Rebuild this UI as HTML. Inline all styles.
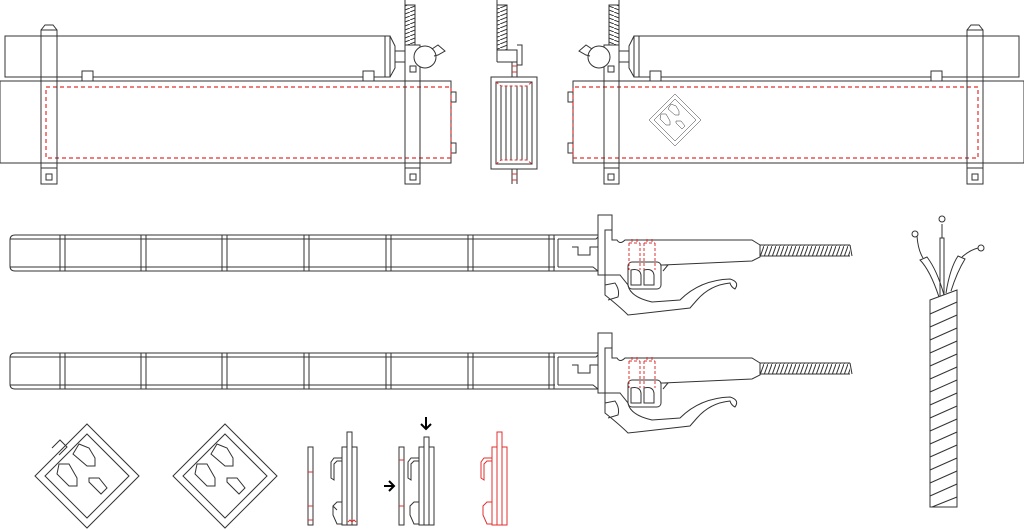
<!DOCTYPE html>
<html><head><meta charset="utf-8"><style>html,body{margin:0;padding:0;background:#fff}svg{display:block}</style></head>
<body>
<svg width="1024" height="530" viewBox="0 0 1024 530" xmlns="http://www.w3.org/2000/svg" fill="none" stroke="#333" stroke-width="1">
<defs>
<pattern id="hv" width="10" height="4" patternUnits="userSpaceOnUse"><path d="M0 4 L10 0" stroke="#333"/></pattern>
<pattern id="hh" width="4" height="11" patternUnits="userSpaceOnUse"><path d="M0 11 L4 0" stroke="#333"/></pattern>
<g id="unit">
  <rect x="5" y="36" width="385" height="41" fill="#fff"/>
  <path d="M385 36 V77 M390 36 L395 46 V68 L390 77 M395 51 H405 V62 H395"/>
  <rect x="82" y="71" width="11" height="10" fill="#fff"/>
  <rect x="363" y="71" width="11" height="10" fill="#fff"/>
  <rect x="0" y="81" width="451" height="82" fill="#fff"/>
  <rect x="451" y="92" width="5" height="10"/><rect x="451" y="143" width="5" height="10"/>
  <rect x="46" y="87" width="405" height="71" stroke="#e03030" stroke-dasharray="4,3" stroke-width="1.2"/>
  <path d="M41 184 V30 L45 25 H53 L57 30 V184 Z M41 30 H57 M41 168 H57"/>
  <rect x="46" y="174" width="6" height="6"/>
  <path d="M405 45 V184 H420 V45 Z M405 168 H420"/>
  <rect x="410" y="66" width="6" height="6"/><rect x="410" y="174" width="6" height="6"/>
  <rect x="405" y="5" width="10" height="40" fill="url(#hv)"/>
  <path d="M405 0 V45 M415 5 V45 M415 45 H420"/>
  <circle cx="425" cy="57" r="11" fill="#fff"/>
  <path d="M432 49 L438 45 L445 51 L438 55 L434 56"/>
</g>
<g id="stick">
  <path d="M15 0 H555 M15 36 H555 M10 5 Q10 0 15 0 M10 31 Q10 36 15 36 M10 5 V31 M10 4 H555 M10 32 H555"/>
  <path d="M60 0 V36 M65 0 V36 M141 0 V36 M146 0 V36 M222 0 V36 M227 0 V36 M304 0 V36 M309 0 V36 M386 0 V36 M391 0 V36 M468 0 V36 M473 0 V36 M549 0 V36 M554 0 V36"/>
  <path d="M555 0 H598 M555 36 H598 M558 4 H596 L598 2 M558 4 V32 M558 32 H593 L598 36 M572 12 H578 V20 H590 V12 H598"/>
  <path d="M598 -20 H612 V-5 H605 V40 H598 Z M612 -20 V5 Q612 5 617 5 Q620 10 625 5 H752 L760 10 V22 L752 26 L663 30"/>
  <path d="M760 10 H850 M760 21 H850 M850 10 L852 21"/>
  <rect x="760" y="10" width="90" height="11" fill="url(#hh)" stroke="none"/>
  <rect x="628" y="27" width="33" height="27" rx="4"/>
  <path d="M661 30 L668 30 L663 36"/>
  <path d="M631 35 Q640 33 641 40 V50 H631 Z M644 35 Q653 33 654 40 V50 H644 Z"/>
  <path d="M629 8 V35 M640 8 V35 M629 8 H640 M644 8 V35 M655 8 V35 M644 8 H655 M632 4 V9 M637 4 V9 M647 4 V9 M652 4 V9" stroke="#e03030" stroke-dasharray="3,2"/>
  <path d="M605 40 H620 L628 50 Q630 62 652 67 L680 65 Q700 45 730 44 Q740 47 735 54 Q731 52 730 48 Q710 50 697 65 L690 73 L628 80 Q620 72 605 60 Z M605 50 L615 48 Q620 55 618 62 L608 65"/>
</g>
<g id="diamond">
  <path d="M0 -52 L52 0 L0 52 L-52 0 Z M0 -42 L42 0 L0 42 L-42 0 Z"/>
  <path d="M-8 -32 L2 -28 L8 -18 V-10 H0 L-14 -22 Z M-28 -12 L-18 -12 L-10 2 V10 H-18 L-30 -2 Z M2 2 H12 L20 12 L14 18 L2 6 Z"/>
</g>
</defs>

<use href="#unit"/>
<g transform="translate(1024,0) scale(-1,1)"><use href="#unit"/></g>
<g transform="translate(675,120) scale(0.5)"><use href="#diamond"/></g>

<rect x="497" y="5" width="10" height="45" fill="url(#hv)"/>
<path d="M497 0 V62 M507 5 V50 M497 50 H517 V62 H497 M517 45 H522 V65 H517"/>
<rect x="491" y="77" width="46" height="92"/>
<rect x="496" y="82" width="36" height="82"/>
<path d="M501 86 V160 M506 86 V160 M511 86 V160 M517 86 V160 M522 86 V160 M527 86 V160" />
<path d="M496 82 L501 86 H527 L532 82 M496 164 L501 160 H527 L532 164" stroke="#e03030" stroke-dasharray="3,2"/>
<path d="M512 62 V77 M517 62 V77 M512 169 V184 M517 169 V184"/>
<path d="M512 66 H517 M512 72 H517 M512 174 H517 M512 180 H517" stroke="#e03030"/>

<g transform="translate(0,235)"><use href="#stick"/></g>
<g transform="translate(0,353)"><use href="#stick"/></g>

<path d="M930 300 L957 290 V507 H930 Z"/>
<path d="M930 314 L957 302 M930 327 L957 315 M930 340 L957 328 M930 353 L957 341 M930 366 L957 354 M930 379 L957 367 M930 392 L957 380 M930 405 L957 393 M930 418 L957 406 M930 431 L957 419 M930 444 L957 432 M930 457 L957 445 M930 470 L957 458 M930 483 L957 471 M930 496 L957 484 M932 507 L957 497"/>
<path d="M939 297 Q930 270 920 260 L927 257 Q937 270 944 295"/>
<path d="M940 296 V238 H944 V294"/>
<path d="M946 293 Q950 268 958 256 L965 259 Q957 272 951 291"/>
<path d="M923 258 Q918 250 917 236 M942 238 V224 M962 257 Q970 250 978 248"/>
<circle cx="915" cy="234" r="3"/><circle cx="942" cy="219" r="3"/><circle cx="981" cy="248" r="3"/>

<g transform="translate(87,476)"><use href="#diamond"/></g>
<path d="M52 448 L60 440 L67 447 L59 455"/>
<g transform="translate(225,476)"><use href="#diamond"/></g>

<g>
<rect x="308" y="447" width="5" height="78"/>
<path d="M308 472 H313 M308 506 H313 M308 520 H313" stroke="#e03030"/>
<rect x="347" y="432" width="5" height="93"/>
<rect x="342" y="447" width="5" height="78"/><rect x="352" y="447" width="5" height="78"/>
<path d="M342 458 H334 L331 462 V478 L334 480 V464 L337 461 H342 M342 502 H337 L333 506 V515 L337 524 H342 M333 506 L337 510" />
<path d="M348 522 L350 520 L352 522 L354 520 L356 522" stroke="#e03030"/>
<rect x="399" y="447" width="5" height="78"/>
<path d="M399 460 H404 M399 506 H404" stroke="#e03030"/>
<rect x="424" y="437" width="5" height="88"/>
<rect x="419" y="447" width="5" height="78"/><rect x="429" y="447" width="5" height="78"/>
<path d="M419 458 H411 L408 462 V478 L411 480 V464 L414 461 H419 M419 502 H414 L410 506 V515 L414 524 H419"/>
<path d="M384 486 H394 M389 481 L394 486 L389 491" stroke="#000" stroke-width="2"/>
<path d="M426 417 V429 M421 424 L426 429 L431 424" stroke="#000" stroke-width="2"/>
<rect x="492" y="447" width="5" height="78" stroke="#2a2"/>
<rect x="497" y="432" width="5" height="93" stroke="#e03030"/>
<rect x="492" y="447" width="5" height="78" stroke="#e03030"/><rect x="502" y="447" width="5" height="78" stroke="#e03030"/>
<path d="M492 458 H484 L481 462 V478 L484 480 V464 L487 461 H492 M492 502 H487 L483 506 V515 L487 524 H492" stroke="#e03030"/>
</g>
</svg>
</body></html>
